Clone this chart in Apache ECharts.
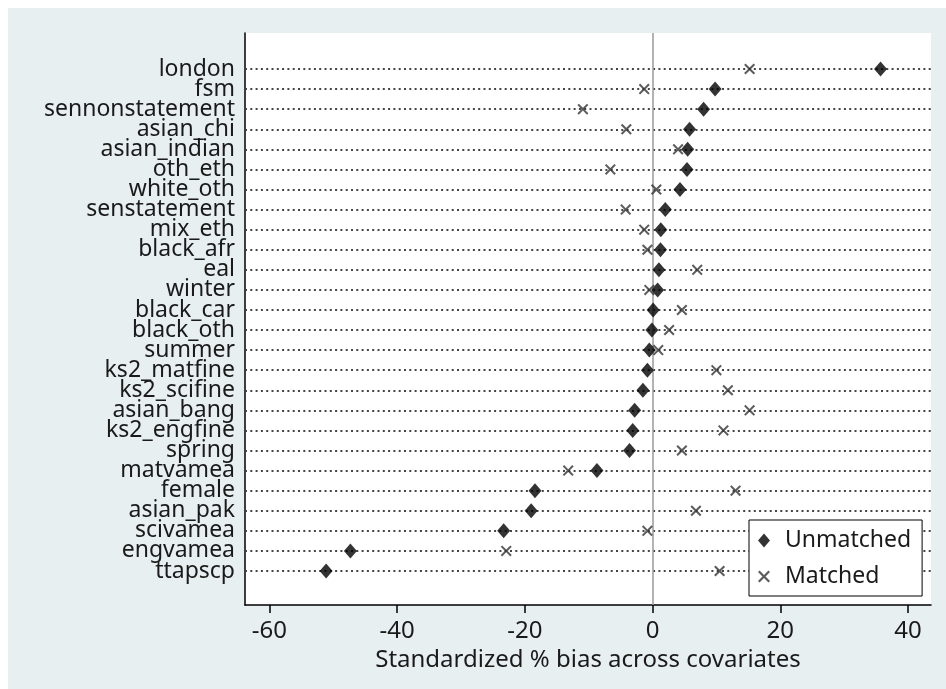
<!DOCTYPE html>
<html>
<head>
<meta charset="utf-8">
<script src="https://cdn.jsdelivr.net/npm/echarts@6/dist/echarts.min.js"></script>
<style>
  html, body { margin: 0; padding: 0; background: #fff; }
  #chart { width: 946px; height: 689px; }
</style>
</head>
<body>
<div id="chart"></div>
<script>
// covariates, sorted by unmatched bias (top to bottom)
const categories = [
  'london', 'fsm', 'sennonstatement', 'asian_chi', 'asian_indian', 'oth_eth',
  'white_oth', 'senstatement', 'mix_eth', 'black_afr', 'eal', 'winter',
  'black_car', 'black_oth', 'summer', 'ks2_matfine', 'ks2_scifine',
  'asian_bang', 'ks2_engfine', 'spring', 'matvamea', 'female', 'asian_pak',
  'scivamea', 'engvamea', 'ttapscp'
];
const unmatched = [
  35.7, 9.8, 8.0, 5.8, 5.5, 5.4, 4.3, 2.0, 1.3, 1.25, 1.0, 0.8, 0.1,
  -0.1, -0.5, -0.8, -1.5, -2.8, -3.1, -3.6, -8.7, -18.4, -19.0, -23.3,
  -47.3, -51.1
];
const matched = [
  15.2, -1.3, -10.9, -4.1, 4.0, -6.6, 0.6, -4.2, -1.3, -0.8, 7.0, -0.5,
  4.6, 2.6, 0.9, 10.0, 11.8, 15.2, 11.1, 4.6, -13.2, 13.0, 6.8, -0.8,
  -22.9, 10.5
];
const xTicks = [-60, -40, -20, 0, 20, 40];
const xMin = -63.8;
const xMax = 43.6;

const FONT = 'Noto Sans';
const TXT = '#1a1a1a';
const crossPath = 'path://M0,1.3L1.3,0L5,3.7L8.7,0L10,1.3L6.3,5L10,8.7L8.7,10L5,6.3L1.3,10L0,8.7L3.7,5Z';

const chart = echarts.init(document.getElementById('chart'));

const option = {
  animation: false,
  backgroundColor: '#fff',
  graphic: [
    {
      type: 'rect',
      z: -10,
      shape: { x: 8, y: 8, width: 938, height: 681 },
      style: { fill: '#e8eff1' }
    }
  ],
  grid: [
    // plot region (white) with axes
    { left: 245, right: 15, top: 33, bottom: 84, show: true, backgroundColor: '#fff', borderWidth: 0 },
    // category rows
    { left: 245, right: 15, top: 59, bottom: 108 }
  ],
  xAxis: [
    {
      gridIndex: 0,
      type: 'value',
      min: xMin,
      max: xMax,
      name: 'Standardized % bias across covariates',
      nameLocation: 'middle',
      nameGap: 38,
      nameTextStyle: { fontFamily: FONT, fontSize: 24, color: TXT },
      axisLine: { show: true, onZero: false, lineStyle: { color: '#000', width: 1.5 } },
      axisTick: { show: true, length: 8, customValues: xTicks, lineStyle: { color: '#000', width: 1.5 } },
      axisLabel: { fontFamily: FONT, fontSize: 24, color: TXT, margin: 14, customValues: xTicks },
      splitLine: { show: false }
    },
    {
      gridIndex: 1,
      type: 'value',
      min: xMin,
      max: xMax,
      show: false
    }
  ],
  yAxis: [
    {
      gridIndex: 0,
      type: 'value',
      min: 0,
      max: 1,
      axisLine: { show: true, onZero: false, lineStyle: { color: '#000', width: 1.5 } },
      axisTick: { show: false },
      axisLabel: { show: false },
      splitLine: { show: false }
    },
    {
      gridIndex: 1,
      type: 'category',
      inverse: true,
      data: categories,
      axisLine: { show: false },
      axisTick: { show: false },
      axisLabel: { fontFamily: FONT, fontSize: 23, color: TXT, margin: 10, interval: 0, hideOverlap: false },
      splitLine: { show: false }
    }
  ],
  legend: {
    orient: 'vertical',
    left: 749,
    top: 520,
    backgroundColor: '#fff',
    borderColor: '#000',
    borderWidth: 1,
    padding: [9, 11, 8, 9],
    itemWidth: 12,
    itemHeight: 14,
    itemGap: 13,
    textStyle: { fontFamily: FONT, fontSize: 23, color: TXT, padding: [0, 0, 0, 10] },
    data: ['Unmatched', 'Matched']
  },
  series: [
    {
      // zero reference line over full plot height
      type: 'line',
      xAxisIndex: 0,
      yAxisIndex: 0,
      data: [],
      silent: true,
      markLine: {
        silent: true,
        symbol: 'none',
        label: { show: false },
        lineStyle: { color: '#9a9a9a', width: 1.5, type: 'solid' },
        z: 4,
        data: [{ xAxis: 0 }]
      }
    },
    {
      name: 'Unmatched',
      type: 'scatter',
      xAxisIndex: 1,
      yAxisIndex: 1,
      symbol: 'diamond',
      symbolSize: [13, 15],
      itemStyle: { color: '#000' },
      z: 6,
      data: unmatched.map((v, i) => [v, categories[i]]),
      markLine: {
        silent: true,
        symbol: 'none',
        label: { show: false },
        lineStyle: { color: '#444', width: 2, type: [2, 3.3] },
        z: 1,
        data: categories.map((c) => ({ yAxis: c }))
      }
    },
    {
      name: 'Matched',
      type: 'scatter',
      xAxisIndex: 1,
      yAxisIndex: 1,
      symbol: crossPath,
      symbolSize: 11,
      itemStyle: { color: '#333' },
      z: 5,
      data: matched.map((v, i) => [v, categories[i]])
    }
  ]
};

chart.setOption(option);
</script>
</body>
</html>
